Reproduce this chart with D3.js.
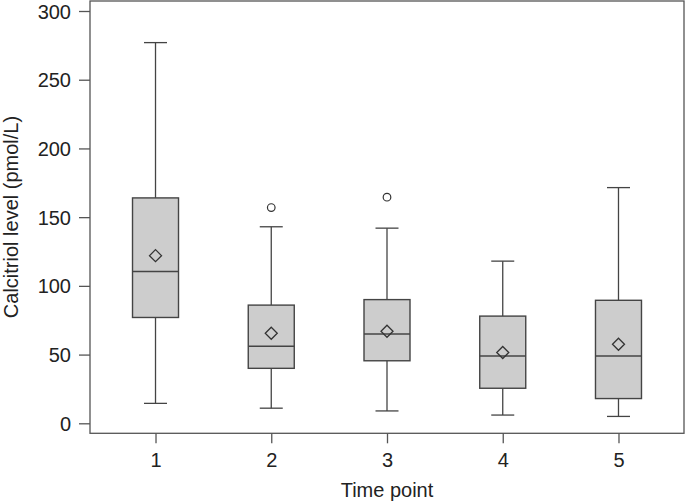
<!DOCTYPE html>
<html><head><meta charset="utf-8">
<script src="https://cdn.jsdelivr.net/npm/d3@7"></script>
<style>body{margin:0;background:#fff}text{font-family:"Liberation Sans",Arial,sans-serif}</style>
</head><body>
<svg id="c" width="685" height="504"></svg>
<script>
const timePoints = [1, 2, 3, 4, 5];
const whiskerLow = [14.5, 11, 9, 6, 5];
const q1 = [77, 40, 45.5, 25.5, 18];
const median = [110.5, 56, 65, 49, 49];
const q3 = [164, 86, 90, 78, 89.5];
const whiskerHigh = [277, 143, 142, 118, 171.5];
const means = [122, 65.5, 67, 51.5, 57.5];
const outliers = [[], [157], [164.5], [], []];
const yTicks = [0, 50, 100, 150, 200, 250, 300];

const svg = d3.select("#c");
const L = 90, R = 684, T = 1, B = 433.3;
const x = d3.scaleLinear().domain([0.434, 5.566]).range([L, R]);
const y = d3.scaleLinear().domain([0, 300]).range([423.3, 11]);
const ink = "#444", boxW = 46, capW = 23;

// frame
svg.append("rect").attr("x", L).attr("y", T).attr("width", R - L).attr("height", B - T)
  .attr("fill", "none").attr("stroke", "#555").attr("stroke-width", 1.3);

// y axis
const ya = svg.append("g").attr("transform", `translate(${L - 11},0)`)
  .call(d3.axisLeft(y).tickValues(yTicks).tickSize(0).tickPadding(0));
ya.select(".domain").remove();
ya.selectAll(".tick line").attr("x1", 0).attr("x2", 11).attr("stroke", "#555").attr("stroke-width", 1.3);
ya.selectAll(".tick text").attr("x", -8).attr("dy", "0.35em").attr("font-size", 20).attr("fill", "#222");

// x axis
const xa = svg.append("g").attr("transform", `translate(0,${B})`)
  .call(d3.axisBottom(x).tickValues(timePoints).tickFormat(d3.format("d")).tickSize(10).tickPadding(0));
xa.select(".domain").remove();
xa.selectAll(".tick line").attr("stroke", "#555").attr("stroke-width", 1.3);
xa.selectAll(".tick text").attr("y", 20).attr("dy", "0.71em").attr("font-size", 20).attr("fill", "#222");

// titles
svg.append("text").attr("x", (L + R) / 2).attr("y", 497).attr("text-anchor", "middle")
  .attr("font-size", 20).attr("fill", "#222").text("Time point");
svg.append("text").attr("transform", `translate(18,217) rotate(-90)`).attr("text-anchor", "middle")
  .attr("font-size", 20).attr("fill", "#222").text("Calcitriol level (pmol/L)");

const g = svg.append("g");
timePoints.forEach((t, i) => {
  const cx = x(t);
  // whiskers
  g.append("line").attr("x1", cx).attr("x2", cx).attr("y1", y(whiskerHigh[i])).attr("y2", y(q3[i]))
    .attr("stroke", ink).attr("stroke-width", 1.3);
  g.append("line").attr("x1", cx).attr("x2", cx).attr("y1", y(q1[i])).attr("y2", y(whiskerLow[i]))
    .attr("stroke", ink).attr("stroke-width", 1.3);
  [whiskerHigh[i], whiskerLow[i]].forEach(v => {
    g.append("line").attr("x1", cx - capW / 2).attr("x2", cx + capW / 2).attr("y1", y(v)).attr("y2", y(v))
      .attr("stroke", ink).attr("stroke-width", 1.3);
  });
  // box
  g.append("rect").attr("x", cx - boxW / 2).attr("width", boxW).attr("y", y(q3[i]))
    .attr("height", y(q1[i]) - y(q3[i])).attr("fill", "#cdcdcd").attr("stroke", ink).attr("stroke-width", 1.4);
  g.append("line").attr("x1", cx - boxW / 2).attr("x2", cx + boxW / 2).attr("y1", y(median[i])).attr("y2", y(median[i]))
    .attr("stroke", ink).attr("stroke-width", 1.5);
  // mean diamond
  const my = y(means[i]), d = 6;
  g.append("path").attr("d", `M${cx},${my - d}L${cx + d},${my}L${cx},${my + d}L${cx - d},${my}Z`)
    .attr("fill", "none").attr("stroke", "#333").attr("stroke-width", 1.3);
  // outliers
  outliers[i].forEach(v => {
    g.append("circle").attr("cx", cx).attr("cy", y(v)).attr("r", 3.8)
      .attr("fill", "#fff").attr("stroke", "#333").attr("stroke-width", 1.2);
  });
});
</script>
</body></html>
